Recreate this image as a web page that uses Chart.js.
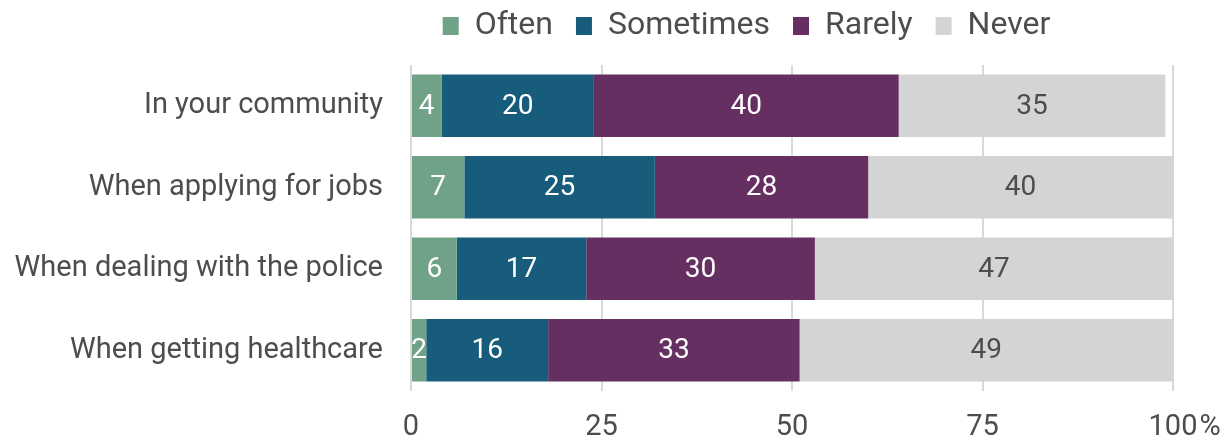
<!DOCTYPE html>
<html>
<head>
<meta charset="utf-8">
<script src="https://cdn.jsdelivr.net/npm/chart.js@4"></script>
<style>
  html, body { margin: 0; padding: 0; background: #fff; }
</style>
</head>
<body>
<canvas id="barChart" width="1231" height="443"></canvas>
<script>
const categories = ['In your community', 'When applying for jobs', 'When dealing with the police', 'When getting healthcare'];
const seriesNames = ['Often', 'Sometimes', 'Rarely', 'Never'];
const often = [4, 7, 6, 2];
const sometimes = [20, 25, 17, 16];
const rarely = [40, 28, 30, 33];
const never = [35, 40, 47, 49];
const xTicks = [0, 25, 50, 75, 100];

const colors = ['#6fa287', '#175c7b', '#652f62', '#d4d4d4'];
const labelColors = ['#ffffff', '#ffffff', '#ffffff', '#4d4d4d'];
const textColor = '#4d4d4d';
const fontFamily = 'Roboto, "Noto Sans", sans-serif';
const tickPad = 19;

// value labels in the middle of each segment
const segmentLabels = {
    id: 'segmentLabels',
    afterDatasetsDraw(chart) {
        const ctx = chart.ctx;
        ctx.save();
        ctx.font = '28px ' + fontFamily;
        ctx.textAlign = 'center';
        ctx.textBaseline = 'middle';
        chart.data.datasets.forEach((ds, i) => {
            const meta = chart.getDatasetMeta(i);
            ctx.fillStyle = labelColors[i];
            meta.data.forEach((bar, j) => {
                const p = bar.getProps(['x', 'y', 'base'], true);
                ctx.fillText(String(ds.data[j]), (p.x + p.base) / 2, p.y + 1);
            });
        });
        ctx.restore();
    }
};

// "%" sign after the last x tick
const percentSign = {
    id: 'percentSign',
    afterDraw(chart) {
        const x = chart.scales.x;
        const ctx = chart.ctx;
        ctx.save();
        ctx.font = '29px ' + fontFamily;
        const w = ctx.measureText(String(xTicks[xTicks.length - 1])).width;
        ctx.fillStyle = textColor;
        ctx.textAlign = 'left';
        ctx.textBaseline = 'middle';
        ctx.fillText('%', x.getPixelForValue(xTicks[xTicks.length - 1]) + w / 2 + 2, x.top + tickPad + 29 * 1.2 / 2);
        ctx.restore();
    }
};

// legend sits over the plot, not over the whole canvas
const legendShift = {
    id: 'legendShift',
    afterLayout(chart) {
        const lg = chart.legend;
        lg.left += 160;
        lg.right += 160;
        lg.top -= 13;
        lg.bottom -= 13;
    }
};

const ctx = document.getElementById('barChart').getContext('2d');
const barChart = new Chart(ctx, {
    type: 'bar',
    data: {
        labels: categories,
        datasets: [
            { label: seriesNames[0], data: often, backgroundColor: colors[0] },
            { label: seriesNames[1], data: sometimes, backgroundColor: colors[1] },
            { label: seriesNames[2], data: rarely, backgroundColor: colors[2] },
            { label: seriesNames[3], data: never, backgroundColor: colors[3] }
        ]
    },
    options: {
        indexAxis: 'y',
        responsive: false,
        animation: false,
        categoryPercentage: 1,
        barPercentage: 0.767,
        layout: { padding: { top: 0, right: 58, bottom: 0, left: 0 } },
        plugins: {
            legend: {
                position: 'top',
                labels: {
                    boxWidth: 16,
                    boxHeight: 18,
                    padding: 23,
                    color: textColor,
                    font: { family: fontFamily, size: 32 }
                }
            },
            tooltip: { enabled: false }
        },
        scales: {
            x: {
                stacked: true,
                min: 0,
                max: 100,
                afterBuildTicks(scale) {
                    scale.ticks = xTicks.map(v => ({ value: v }));
                },
                afterFit(scale) {
                    scale.height = 52;
                },
                grid: { color: '#d9d9d9', lineWidth: 2, drawTicks: false },
                border: { display: false },
                ticks: {
                    padding: tickPad,
                    color: textColor,
                    font: { family: fontFamily, size: 29 },
                    maxRotation: 0
                }
            },
            y: {
                stacked: true,
                grid: { display: false, drawTicks: false },
                border: { display: false },
                afterFit(scale) {
                    scale.width = 411;
                    scale.paddingTop = 0;
                    scale.paddingBottom = 0;
                },
                ticks: {
                    padding: 28,
                    color: textColor,
                    font: { family: fontFamily, size: 29 }
                }
            }
        }
    },
    plugins: [segmentLabels, percentSign, legendShift]
});
</script>
</body>
</html>
